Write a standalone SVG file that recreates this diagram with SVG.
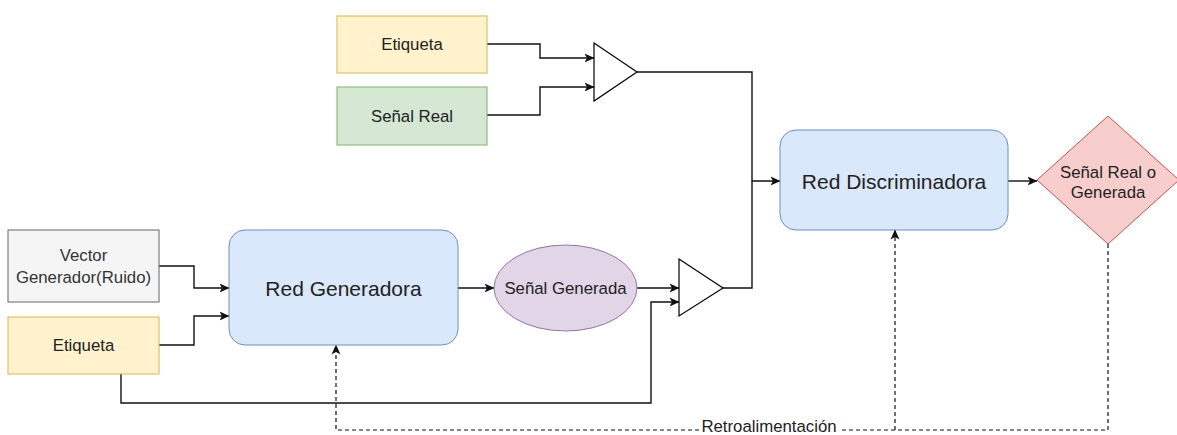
<svg xmlns="http://www.w3.org/2000/svg" width="1177" height="435" viewBox="0 0 1177 435">
  <style>
    text { font-family: "Liberation Sans", Arial, sans-serif; fill: #222; text-anchor: middle; dominant-baseline: central; }
    .sm { font-size: 16.8px; }
    .lg { font-size: 21px; }
    .yellow { fill: #fff2cc; stroke: #d6b656; stroke-width: 1; }
    .green { fill: #d5e8d4; stroke: #82b366; stroke-width: 1; }
    .gray { fill: #f5f5f5; stroke: #666666; stroke-width: 1; }
    .blue { fill: #dae8fc; stroke: #6c8ebf; stroke-width: 1; }
    .purple { fill: #e1d5e7; stroke: #9673a6; stroke-width: 1; }
    .red { fill: #f8cecc; stroke: #b85450; stroke-width: 1; }
    .tri { fill: #ffffff; stroke: #000; stroke-width: 1.2; }
    .edge { fill: none; stroke: #111; stroke-width: 1.4; }
    .dash { fill: none; stroke: #111; stroke-width: 1.2; stroke-dasharray: 4 3; }
  </style>
  <defs>
    <marker id="arrow" viewBox="0 0 10 10" refX="9.5" refY="5" markerWidth="10" markerHeight="10" markerUnits="userSpaceOnUse" orient="auto">
      <path d="M0,0.5 L10,5 L0,9.5 L2.5,5 z" fill="#111"/>
    </marker>
  </defs>

  <!-- connectors -->
  <g id="connectors">
    <path class="edge" d="M487,44 H540 V58 H594" marker-end="url(#arrow)"/>
    <path class="edge" d="M487,115 H540 V87 H594" marker-end="url(#arrow)"/>
    <path class="edge" d="M637,72 H752 V181 H780" marker-end="url(#arrow)"/>
    <path class="edge" d="M723,288 H752 V181"/>
    <path class="edge" d="M1008,181 H1037" marker-end="url(#arrow)"/>
    <path class="edge" d="M159,266 H194 V288 H229" marker-end="url(#arrow)"/>
    <path class="edge" d="M159,345 H194 V316 H229" marker-end="url(#arrow)"/>
    <path class="edge" d="M458,288 H494" marker-end="url(#arrow)"/>
    <path class="edge" d="M637,288 H679" marker-end="url(#arrow)"/>
    <path class="edge" d="M121,374 V403 H651 V302 H679" marker-end="url(#arrow)"/>
    <path class="dash" d="M1108,244 V430 H336 V345" marker-end="url(#arrow)"/>
    <path class="dash" d="M895,430 V230" marker-end="url(#arrow)"/>
    <rect x="700" y="421" width="140" height="14" fill="#ffffff"/>
    <text class="sm" x="769" y="426">Retroalimentación</text>
  </g>

  <g id="etiqueta-top">
    <rect class="yellow" x="337" y="16" width="150" height="57"/>
    <text class="sm" x="412" y="44.5">Etiqueta</text>
  </g>
  <g id="senal-real">
    <rect class="green" x="337" y="87" width="150" height="58"/>
    <text class="sm" x="412" y="116">Señal Real</text>
  </g>
  <g id="union-top">
    <path class="tri" d="M594,43 L637,72 L594,101 Z"/>
  </g>
  <g id="vector-generador">
    <rect class="gray" x="8" y="230" width="151" height="72"/>
    <text class="sm" x="83.5" y="255" style="fill:#333">Vector</text>
    <text class="sm" x="83.5" y="277" style="fill:#333">Generador(Ruido)</text>
  </g>
  <g id="etiqueta-bottom">
    <rect class="yellow" x="8" y="317" width="151" height="57"/>
    <text class="sm" x="83.5" y="345">Etiqueta</text>
  </g>
  <g id="red-generadora">
    <rect class="blue" x="229" y="230" width="229" height="115" rx="16" ry="16"/>
    <text class="lg" x="343.5" y="288">Red Generadora</text>
  </g>
  <g id="senal-generada">
    <ellipse class="purple" cx="565.5" cy="288" rx="71.5" ry="43"/>
    <text class="sm" x="565.5" y="288">Señal Generada</text>
  </g>
  <g id="union-bottom">
    <path class="tri" d="M679,259 L723,288 L679,316 Z"/>
  </g>
  <g id="red-discriminadora">
    <rect class="blue" x="780" y="130" width="228" height="100" rx="16" ry="16"/>
    <text class="lg" x="894" y="181">Red Discriminadora</text>
  </g>
  <g id="decision">
    <path class="red" d="M1108,116 L1179,180 L1108,244 L1037,180 Z"/>
    <text class="sm" x="1108" y="172">Señal Real o</text>
    <text class="sm" x="1108" y="192">Generada</text>
  </g>
</svg>
